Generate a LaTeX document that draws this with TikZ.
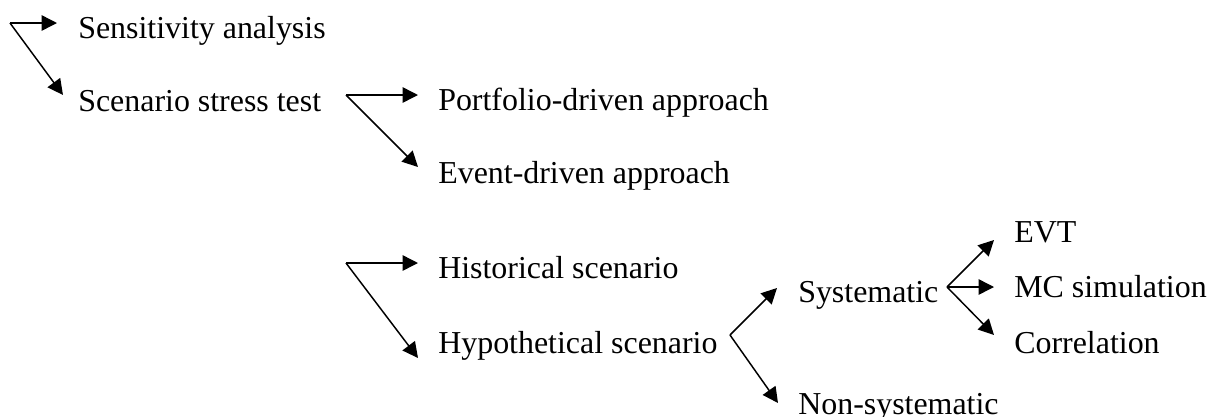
\documentclass[tikz,border=0pt]{standalone}
\usepackage{fontspec}
\setmainfont{Liberation Serif}
\usetikzlibrary{arrows.meta}
\begin{document}
\begin{tikzpicture}[
		x=0.025cm, y=-0.025cm,
		label/.style={anchor=base west, inner sep=0pt, font=\fontsize{22.7}{27}\selectfont},
		branch/.style={-{Triangle[length=11pt, width=11pt]}, line width=1.05pt}
	]
	\useasboundingbox (0,0) rectangle (1210,416);

	% texts
	\node[label] (sens) at (78,38) {Sensitivity analysis};
	\node[label] (scen) at (78,111) {Scenario stress test};
	\node[label] (port) at (438,110) {Portfolio-driven approach};
	\node[label] (event) at (438,183) {Event-driven approach};
	\node[label] (hist) at (438,278) {Historical scenario};
	\node[label] (hypo) at (438,353) {Hypothetical scenario};
	\node[label] (syst) at (798,302) {Systematic};
	\node[label] (nonsys) at (798,414) {Non-systematic};
	\node[label] (evt) at (1014,242) {EVT};
	\node[label] (mc) at (1014,297) {MC simulation};
	\node[label] (corr) at (1014,353) {Correlation};

	% forks
	\coordinate (f1) at (10,23);
	\coordinate (f2) at (346,95);
	\coordinate (f3) at (346,263);
	\coordinate (f4) at (730,335);
	\coordinate (f5) at (947,287);

	\draw[branch] (f1) -- ([shift={(-21,-15)}]sens.base west);
	\draw[branch] (f1) -- ([shift={(-15,-16)}]scen.base west);
	\draw[branch] (f2) -- ([shift={(-20,-15)}]port.base west);
	\draw[branch] (f2) -- ([shift={(-20,-16)}]event.base west);
	\draw[branch] (f3) -- ([shift={(-20,-15)}]hist.base west);
	\draw[branch] (f3) -- ([shift={(-20,5)}]hypo.base west);
	\draw[branch] (f4) -- ([shift={(-21,-14)}]syst.base west);
	\draw[branch] (f4) -- ([shift={(-20,-11)}]nonsys.base west);
	\draw[branch] (f5) -- ([shift={(-20,-2)}]evt.base west);
	\draw[branch] (f5) -- ([shift={(-20,-10)}]mc.base west);
	\draw[branch] (f5) -- ([shift={(-20,-18)}]corr.base west);
\end{tikzpicture}
\end{document}
